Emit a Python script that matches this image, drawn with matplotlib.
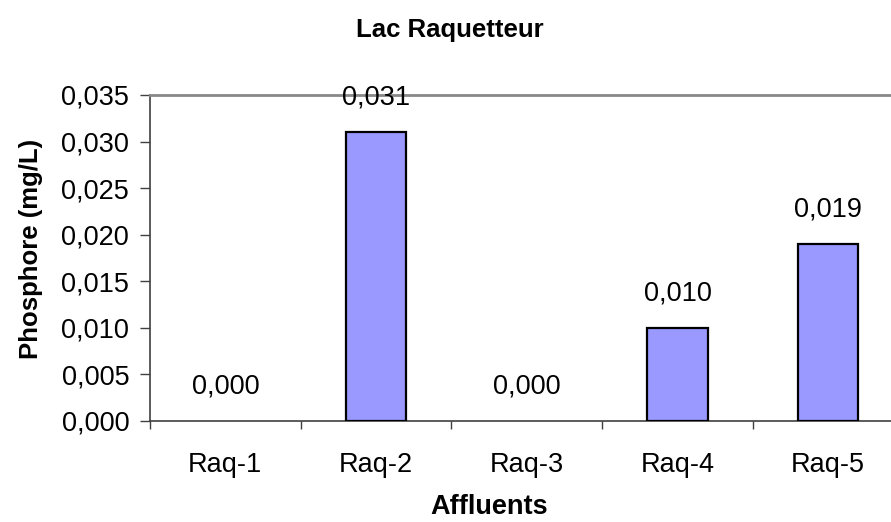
import matplotlib
matplotlib.use("Agg")
import matplotlib.pyplot as plt
from matplotlib.ticker import MultipleLocator, FuncFormatter

categories = ["Raq-1", "Raq-2", "Raq-3", "Raq-4", "Raq-5"]
values = [0.000, 0.031, 0.000, 0.010, 0.019]
title = "Lac Raquetteur"
ylabel = "Phosphore (mg/L)"
xlabel = "Affluents"

plt.rcParams['font.family'] = ['Liberation Sans', 'DejaVu Sans']

fig = plt.figure(figsize=(8.91, 5.22), dpi=100)
W, H = 891, 522
left, right, top, bottom = 150, 903.5, 95, 421
ax = fig.add_axes([left / W, 1 - bottom / H, (right - left) / W, (bottom - top) / H])

x = list(range(len(categories)))
bars = ax.bar(x, values, width=0.4, color='#9999ff', edgecolor='black', linewidth=1.6, zorder=3)
for b, v in zip(bars, values):
    if v == 0:
        b.set_linewidth(0)
ax.set_xlim(-0.5, len(categories) - 0.5)
ax.set_ylim(0, 0.035)

ax.yaxis.set_major_locator(MultipleLocator(0.005))
ax.yaxis.set_major_formatter(FuncFormatter(lambda v, p: f"{v:.3f}".replace('.', ',')))
ax.set_xticks([i - 0.5 for i in range(len(categories) + 1)])
ax.set_xticklabels([])
ax.set_xticks(x, minor=True)
ax.set_xticklabels(categories, minor=True)
ax.tick_params(axis='x', which='minor', length=0, pad=22, labelsize=19.5)
ax.tick_params(axis='x', which='major', length=6, width=1, color='#404040', direction='out')
ax.tick_params(axis='y', length=7, width=1, color='#404040', direction='out', pad=8, labelsize=19.5)

for s in ['left', 'bottom']:
    ax.spines[s].set_color('#404040')
    ax.spines[s].set_linewidth(1.2)
ax.spines['top'].set_color('#888888')
ax.spines['top'].set_linewidth(2)
ax.spines['right'].set_visible(False)

for xi, v in zip(x, values):
    ax.annotate(f"{v:.3f}".replace('.', ','), (xi, v), xytext=(0, 25), textcoords='offset points',
                ha='center', va='center', fontsize=19.5, zorder=4)

fig.text(450 / W, 1 - 30 / H, title, ha='center', va='center', fontsize=18.5, fontweight='bold')
fig.text(489 / W, 1 - 507 / H, xlabel, ha='center', va='center', fontsize=19.5, fontweight='bold')
fig.text(31 / W, 1 - 249 / H, ylabel, ha='center', va='center', fontsize=18.5, fontweight='bold', rotation=90)

fig.savefig("out.png", dpi=100)
